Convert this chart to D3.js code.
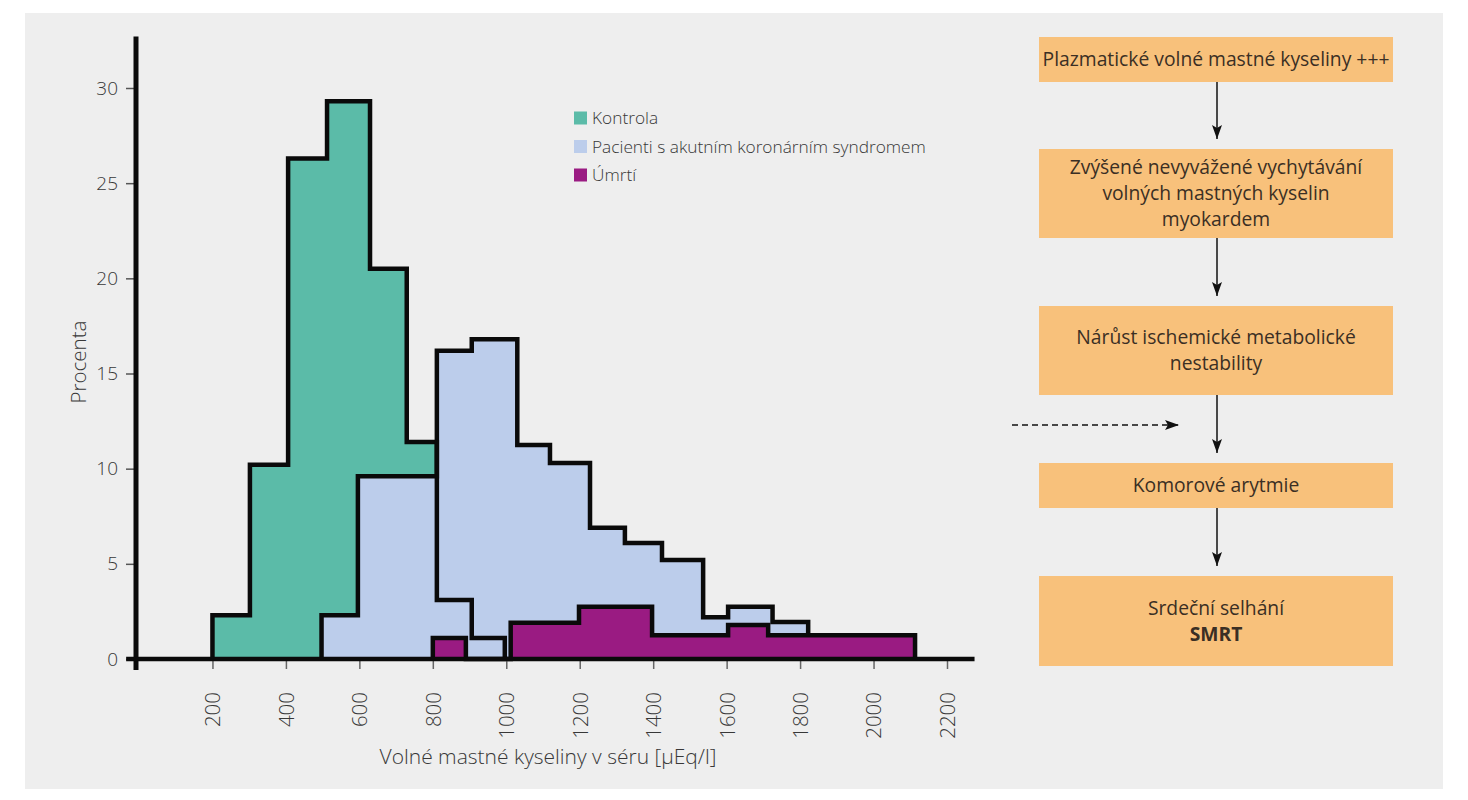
<!DOCTYPE html>
<html>
<head>
<meta charset="utf-8">
<script src="https://cdn.jsdelivr.net/npm/d3@7"></script>
<style>
  html, body { margin: 0; padding: 0; background: #ffffff; }
  svg { display: block; }
  text { font-family: "Open Sans", "Noto Sans", sans-serif; }
</style>
</head>
<body>
<svg id="chart" width="1468" height="800"></svg>
<script>
// ---------------- DATA ----------------
const seriesNames = ["Kontrola", "Pacienti s akutním koronárním syndromem", "Úmrtí"];

// bin edges (µEq/l) and heights (%)
const kontrolaEdges  = [200, 302, 406, 512, 629, 729, 811, 906, 996];
const kontrolaValues = [2.3, 10.2, 26.3, 29.3, 20.5, 11.4, 3.1, 1.1];

const pacientiEdges  = [497, 596, 811, 906, 1030, 1119, 1228, 1323, 1424, 1536, 1604, 1725, 1822];
const pacientiValues = [2.3, 9.6, 16.2, 16.8, 11.25, 10.3, 6.9, 6.1, 5.2, 2.2, 2.75, 1.95];

const umrtiEdges  = [800, 890, 1012, 1198, 1397, 1604, 1713, 2113];
const umrtiValues = [1.1, 0, 1.9, 2.75, 1.25, 1.78, 1.25];

const xTicks = [200, 400, 600, 800, 1000, 1200, 1400, 1600, 1800, 2000, 2200];
const yTicks = [0, 5, 10, 15, 20, 25, 30];

const xTitle = "Volné mastné kyseliny v séru [µEq/l]";
const yTitle = "Procenta";

const flowBoxes = [
  ["Plazmatické volné mastné kyseliny +++"],
  ["Zvýšené nevyvážené vychytávání", "volných mastných kyselin", "myokardem"],
  ["Nárůst ischemické metabolické", "nestability"],
  ["Komorové arytmie"],
  ["Srdeční selhání", "SMRT"]
];

// ---------------- STYLE / LAYOUT ----------------
const colors = ["#5bbba8", "#bccdeb", "#9a1b82"];
const svg = d3.select("#chart");

svg.append("rect").attr("x", 25).attr("y", 13).attr("width", 1418).attr("height", 776)
  .attr("fill", "#eeeeee");

const x = d3.scaleLinear().domain([0, 2200]).range([139, 947]);
const y = d3.scaleLinear().domain([0, 30]).range([659, 88]);

function stepPoints(edges, values) {
  const pts = [[x(edges[0]), y(0)]];
  values.forEach((v, i) => {
    pts.push([x(edges[i]), y(v)]);
    pts.push([x(edges[i + 1]), y(v)]);
  });
  pts.push([x(edges[edges.length - 1]), y(0)]);
  return pts;
}
const line = d3.line();

const series = [
  { e: kontrolaEdges, v: kontrolaValues, c: colors[0] },
  { e: pacientiEdges, v: pacientiValues, c: colors[1] },
  { e: umrtiEdges, v: umrtiValues, c: colors[2] }
];

const gH = svg.append("g");
function fill(s) {
  gH.append("path").attr("d", line(stepPoints(s.e, s.v)) + "Z").attr("fill", s.c).attr("stroke", "none");
}
function outline(s) {
  gH.append("path").attr("d", line(stepPoints(s.e, s.v))).attr("fill", "none")
    .attr("stroke", "#0a0a0a").attr("stroke-width", 4.5).attr("stroke-linejoin", "miter");
}
fill(series[0]);
fill(series[1]);
outline(series[0]);
outline(series[1]);
fill(series[2]);
outline(series[2]);

// ---------------- AXES ----------------
const txt = "#383838";
const yAxis = svg.append("g").attr("transform", "translate(134,0)")
  .call(d3.axisLeft(y).tickValues(yTicks).tickSize(8).tickPadding(8));
yAxis.select(".domain").remove();
yAxis.selectAll(".tick line").attr("stroke", "#555").attr("stroke-width", 1.5);
yAxis.selectAll(".tick text").attr("font-size", 19).attr("fill", txt)
  .attr("font-family", "Open Sans").attr("font-weight", 300);

const xAxis = svg.append("g").attr("transform", "translate(0,661)")
  .call(d3.axisBottom(x).tickValues(xTicks).tickSize(8).tickFormat(d3.format("d")));
xAxis.select(".domain").remove();
xAxis.selectAll(".tick line").attr("stroke", "#666").attr("stroke-width", 1.5);
xAxis.selectAll(".tick text")
  .attr("transform", "rotate(-90)").attr("text-anchor", "end")
  .attr("x", -31).attr("y", 0).attr("dy", "0.36em")
  .attr("font-size", 20.5).attr("fill", txt).attr("font-family", "Open Sans").attr("font-weight", 300);

// thick axis lines
svg.append("line").attr("x1", x(0) - 3).attr("x2", x(0) - 3).attr("y1", y(32.7)).attr("y2", y(0) + 11)
  .attr("stroke", "#0a0a0a").attr("stroke-width", 5);
svg.append("line").attr("x1", x(-35)).attr("x2", x(2275)).attr("y1", y(0)).attr("y2", y(0))
  .attr("stroke", "#0a0a0a").attr("stroke-width", 4.5);

// titles
svg.append("text").attr("x", 548).attr("y", 764).attr("text-anchor", "middle")
  .attr("font-size", 21).attr("fill", txt).attr("font-weight", 300).text(xTitle);
svg.append("text").attr("transform", "translate(86,362) rotate(-90)").attr("text-anchor", "middle")
  .attr("font-size", 20.5).attr("fill", txt).attr("font-weight", 300).text(yTitle);

// legend
const leg = svg.append("g");
seriesNames.forEach((n, i) => {
  const cy = 118 + i * 28.5;
  leg.append("rect").attr("x", 574).attr("y", cy - 6.5).attr("width", 13).attr("height", 13).attr("fill", colors[i]);
  leg.append("text").attr("x", 592).attr("y", cy).attr("dy", "0.35em").attr("font-size", 17.3)
    .attr("fill", txt).attr("font-weight", 300).text(n);
});

// ---------------- FLOWCHART ----------------
const boxTop = [37, 149, 306, 463, 576];
const boxBottom = [82, 238, 395, 508, 666];
const bx0 = 1039, bx1 = 1393, bcx = 1217;
const defs = svg.append("defs");
defs.append("marker").attr("id", "ah2").attr("viewBox", "0 0 14 10").attr("refX", 14).attr("refY", 5)
  .attr("markerWidth", 14).attr("markerHeight", 10).attr("markerUnits", "userSpaceOnUse").attr("orient", "auto")
  .append("path").attr("d", "M0,0 L14,5 L0,10 L3,5 Z").attr("fill", "#111");

flowBoxes.forEach((lines, i) => {
  const t = boxTop[i], b = boxBottom[i];
  svg.append("rect").attr("x", bx0).attr("y", t).attr("width", bx1 - bx0).attr("height", b - t).attr("fill", "#f8c17b");
  const lh = 26;
  const cy = (t + b) / 2 - (lines.length - 1) * lh / 2;
  lines.forEach((l, j) => {
    svg.append("text").attr("x", (bx0 + bx1) / 2).attr("y", cy + j * lh).attr("dy", "0.35em")
      .attr("text-anchor", "middle").attr("font-size", 19.3).attr("fill", "#3b2f24")
      .attr("font-weight", l === "SMRT" ? 700 : 400).text(l);
  });
  if (i < flowBoxes.length - 1) {
    svg.append("line").attr("x1", bcx).attr("x2", bcx).attr("y1", b).attr("y2", boxTop[i + 1] - 10)
      .attr("stroke", "#111").attr("stroke-width", 1.5).attr("marker-end", "url(#ah2)");
  }
});
// dashed arrow
svg.append("line").attr("x1", 1012).attr("x2", 1179).attr("y1", 425).attr("y2", 425)
  .attr("stroke", "#111").attr("stroke-width", 1.5).attr("stroke-dasharray", "6,4").attr("marker-end", "url(#ah2)");
</script>
</body>
</html>
